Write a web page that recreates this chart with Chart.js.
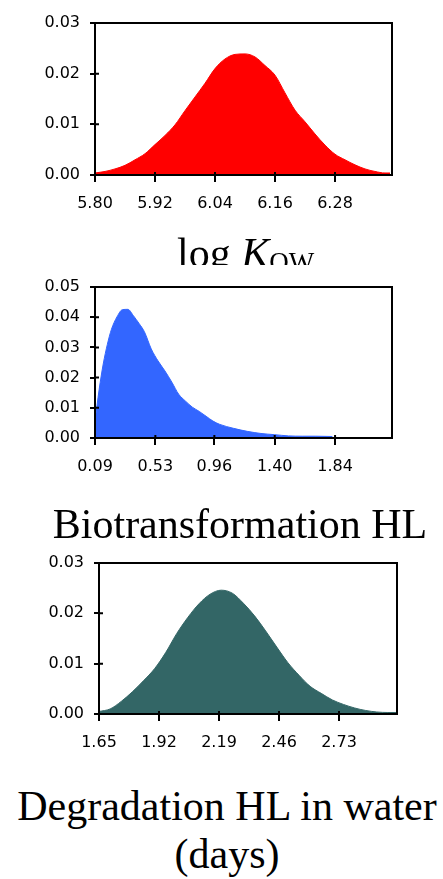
<!DOCTYPE html>
<html>
<head>
<meta charset="utf-8">
<script src="https://cdn.jsdelivr.net/npm/chart.js@4/dist/chart.umd.min.js"></script>
<style>
    html, body { margin: 0; padding: 0; background: #fff; overflow: hidden; }
    body { width: 443px; height: 879px; position: relative; }
    canvas { position: absolute; left: 0; }
    .title { position: absolute; font-family: "Liberation Serif", "Times New Roman", serif; font-size: 42px; color: #000; white-space: nowrap; }
    .title sub { font-size: 27px; vertical-align: -4px; line-height: 0; }
</style>
</head>
<body>
<canvas id="kow-chart" width="443" height="215" style="top:0px"></canvas>
<canvas id="bio-chart" width="443" height="215" style="top:262px"></canvas>
<canvas id="deg-chart" width="443" height="215" style="top:540px"></canvas>

<div style="position:absolute;left:0;top:0;width:443px;height:265px;overflow:hidden;">
    <div class="title" style="left:177px;top:232px;line-height:42px;">log <i>K</i><sub>OW</sub></div>
</div>
<div class="title" style="left:0;width:480px;text-align:center;top:503px;line-height:42px;">Biotransformation HL</div>
<div class="title" style="left:0;width:454px;text-align:center;top:782px;line-height:48px;">Degradation HL in water<br>(days)</div>

<script>
// log Kow distribution
const kowX = [5.80, 5.82, 5.84, 5.86, 5.88, 5.90, 5.92, 5.94, 5.96, 5.98, 6.00, 6.02, 6.04, 6.06, 6.08, 6.10,
              6.12, 6.14, 6.16, 6.18, 6.20, 6.22, 6.24, 6.26, 6.28, 6.30, 6.32, 6.34, 6.36, 6.38, 6.39];
const kowY = [0.0004, 0.0007, 0.0012, 0.0019, 0.0030, 0.0042, 0.0060, 0.0078, 0.0099, 0.0127, 0.0154, 0.0181,
              0.0210, 0.0229, 0.0238, 0.0239, 0.0233, 0.0216, 0.0197, 0.0162, 0.0128, 0.0105, 0.0081, 0.0059,
              0.0041, 0.0030, 0.0020, 0.0012, 0.0007, 0.0004, 0.0004];
const kowTicks = ['5.80', '5.92', '6.04', '6.16', '6.28'];

// biotransformation half-life distribution
const bioX = [0.09, 0.12, 0.15, 0.18, 0.21, 0.25, 0.29, 0.33, 0.37, 0.41, 0.45, 0.50, 0.55, 0.60, 0.65, 0.70,
              0.75, 0.80, 0.85, 0.90, 0.95, 1.00, 1.10, 1.20, 1.30, 1.40, 1.50, 1.60, 1.70, 1.82];
const bioY = [0.0055, 0.0160, 0.0245, 0.0310, 0.0360, 0.0401, 0.0425, 0.0426, 0.0405, 0.0380, 0.0352, 0.0295,
              0.0255, 0.0222, 0.0185, 0.0145, 0.0122, 0.0102, 0.0088, 0.0072, 0.0056, 0.0045, 0.0032, 0.0022,
              0.0015, 0.0011, 0.0007, 0.0006, 0.0006, 0.0005];
const bioTicks = ['0.09', '0.53', '0.96', '1.40', '1.84'];

// degradation half-life in water distribution
const degX = [1.65, 1.70, 1.75, 1.80, 1.85, 1.90, 1.95, 2.00, 2.05, 2.10, 2.15, 2.20, 2.25, 2.30, 2.35, 2.40,
              2.45, 2.50, 2.55, 2.60, 2.65, 2.70, 2.75, 2.80, 2.85, 2.90, 2.95, 2.99];
const degY = [0.0005, 0.0010, 0.0025, 0.0044, 0.0066, 0.0090, 0.0122, 0.0160, 0.0192, 0.0219, 0.0238, 0.0246,
              0.0240, 0.0220, 0.0195, 0.0165, 0.0133, 0.0102, 0.0077, 0.0055, 0.0041, 0.0028, 0.0019, 0.0012,
              0.0007, 0.0004, 0.0003, 0.0003];
const degTicks = ['1.65', '1.92', '2.19', '2.46', '2.73'];

const tickFont = { family: 'DejaVu Sans', size: 16 };

// box round the plot area plus the inner half of the crossing tick marks
const framePlugin = {
    id: 'frame',
    afterDraw(chart) {
        const { ctx, chartArea: a, scales } = chart;
        ctx.save();
        ctx.strokeStyle = '#000';
        ctx.lineWidth = 2;
        ctx.strokeRect(a.left, a.top, a.right - a.left, a.bottom - a.top);
        ctx.beginPath();
        scales.x.ticks.forEach(t => {
            const px = scales.x.getPixelForValue(t.value);
            ctx.moveTo(px, a.bottom);
            ctx.lineTo(px, a.bottom - 3);
        });
        scales.y.ticks.forEach(t => {
            const py = scales.y.getPixelForValue(t.value);
            ctx.moveTo(a.left, py);
            ctx.lineTo(a.left + 4, py);
        });
        ctx.stroke();
        ctx.restore();
    }
};

function makeChart(id, xs, ys, color, tickLabels, xMin, xMax, yMax, yStep, box) {
    const ctx = document.getElementById(id).getContext('2d');
    return new Chart(ctx, {
        type: 'line',
        data: {
            datasets: [{
                data: xs.map((x, i) => ({ x: x, y: ys[i] })),
                borderColor: color,
                backgroundColor: color,
                borderWidth: 1,
                fill: 'origin',
                pointRadius: 0,
                tension: 0.3,
                cubicInterpolationMode: 'monotone'
            }]
        },
        options: {
            responsive: false,
            animation: false,
            events: [],
            layout: { padding: { top: box.top, right: box.right, left: 0, bottom: 0 } },
            plugins: { legend: { display: false }, tooltip: { enabled: false } },
            scales: {
                x: {
                    type: 'linear',
                    min: xMin,
                    max: xMax,
                    afterBuildTicks: s => { s.ticks = tickLabels.map(t => ({ value: parseFloat(t) })); },
                    afterFit: s => { s.height = box.xHeight; },
                    border: { display: false },
                    grid: { drawOnChartArea: false, drawTicks: true, tickLength: 7, color: '#000', lineWidth: 2 },
                    ticks: {
                        autoSkip: false,
                        maxRotation: 0,
                        padding: 12,
                        color: '#000',
                        font: tickFont,
                        callback: (v, i) => tickLabels[i]
                    }
                },
                y: {
                    min: 0,
                    max: yMax,
                    afterFit: s => { s.width = box.yWidth; },
                    border: { display: false },
                    grid: { drawOnChartArea: false, drawTicks: true, tickLength: 5, color: '#000', lineWidth: 2 },
                    ticks: {
                        stepSize: yStep,
                        padding: 10,
                        color: '#000',
                        font: tickFont,
                        callback: v => Number(v).toFixed(2)
                    }
                }
            }
        },
        plugins: [framePlugin]
    });
}

makeChart('kow-chart', kowX, kowY, '#ff0000', kowTicks, 5.80, 6.394, 0.03, 0.01,
    { top: 23, right: 51, yWidth: 95, xHeight: 40 });
makeChart('bio-chart', bioX, bioY, '#3366ff', bioTicks, 0.09, 2.255, 0.05, 0.01,
    { top: 25, right: 51, yWidth: 95, xHeight: 39 });
makeChart('deg-chart', degX, degY, '#336666', degTicks, 1.65, 2.991, 0.03, 0.01,
    { top: 23, right: 46, yWidth: 99, xHeight: 41 });
</script>
</body>
</html>
